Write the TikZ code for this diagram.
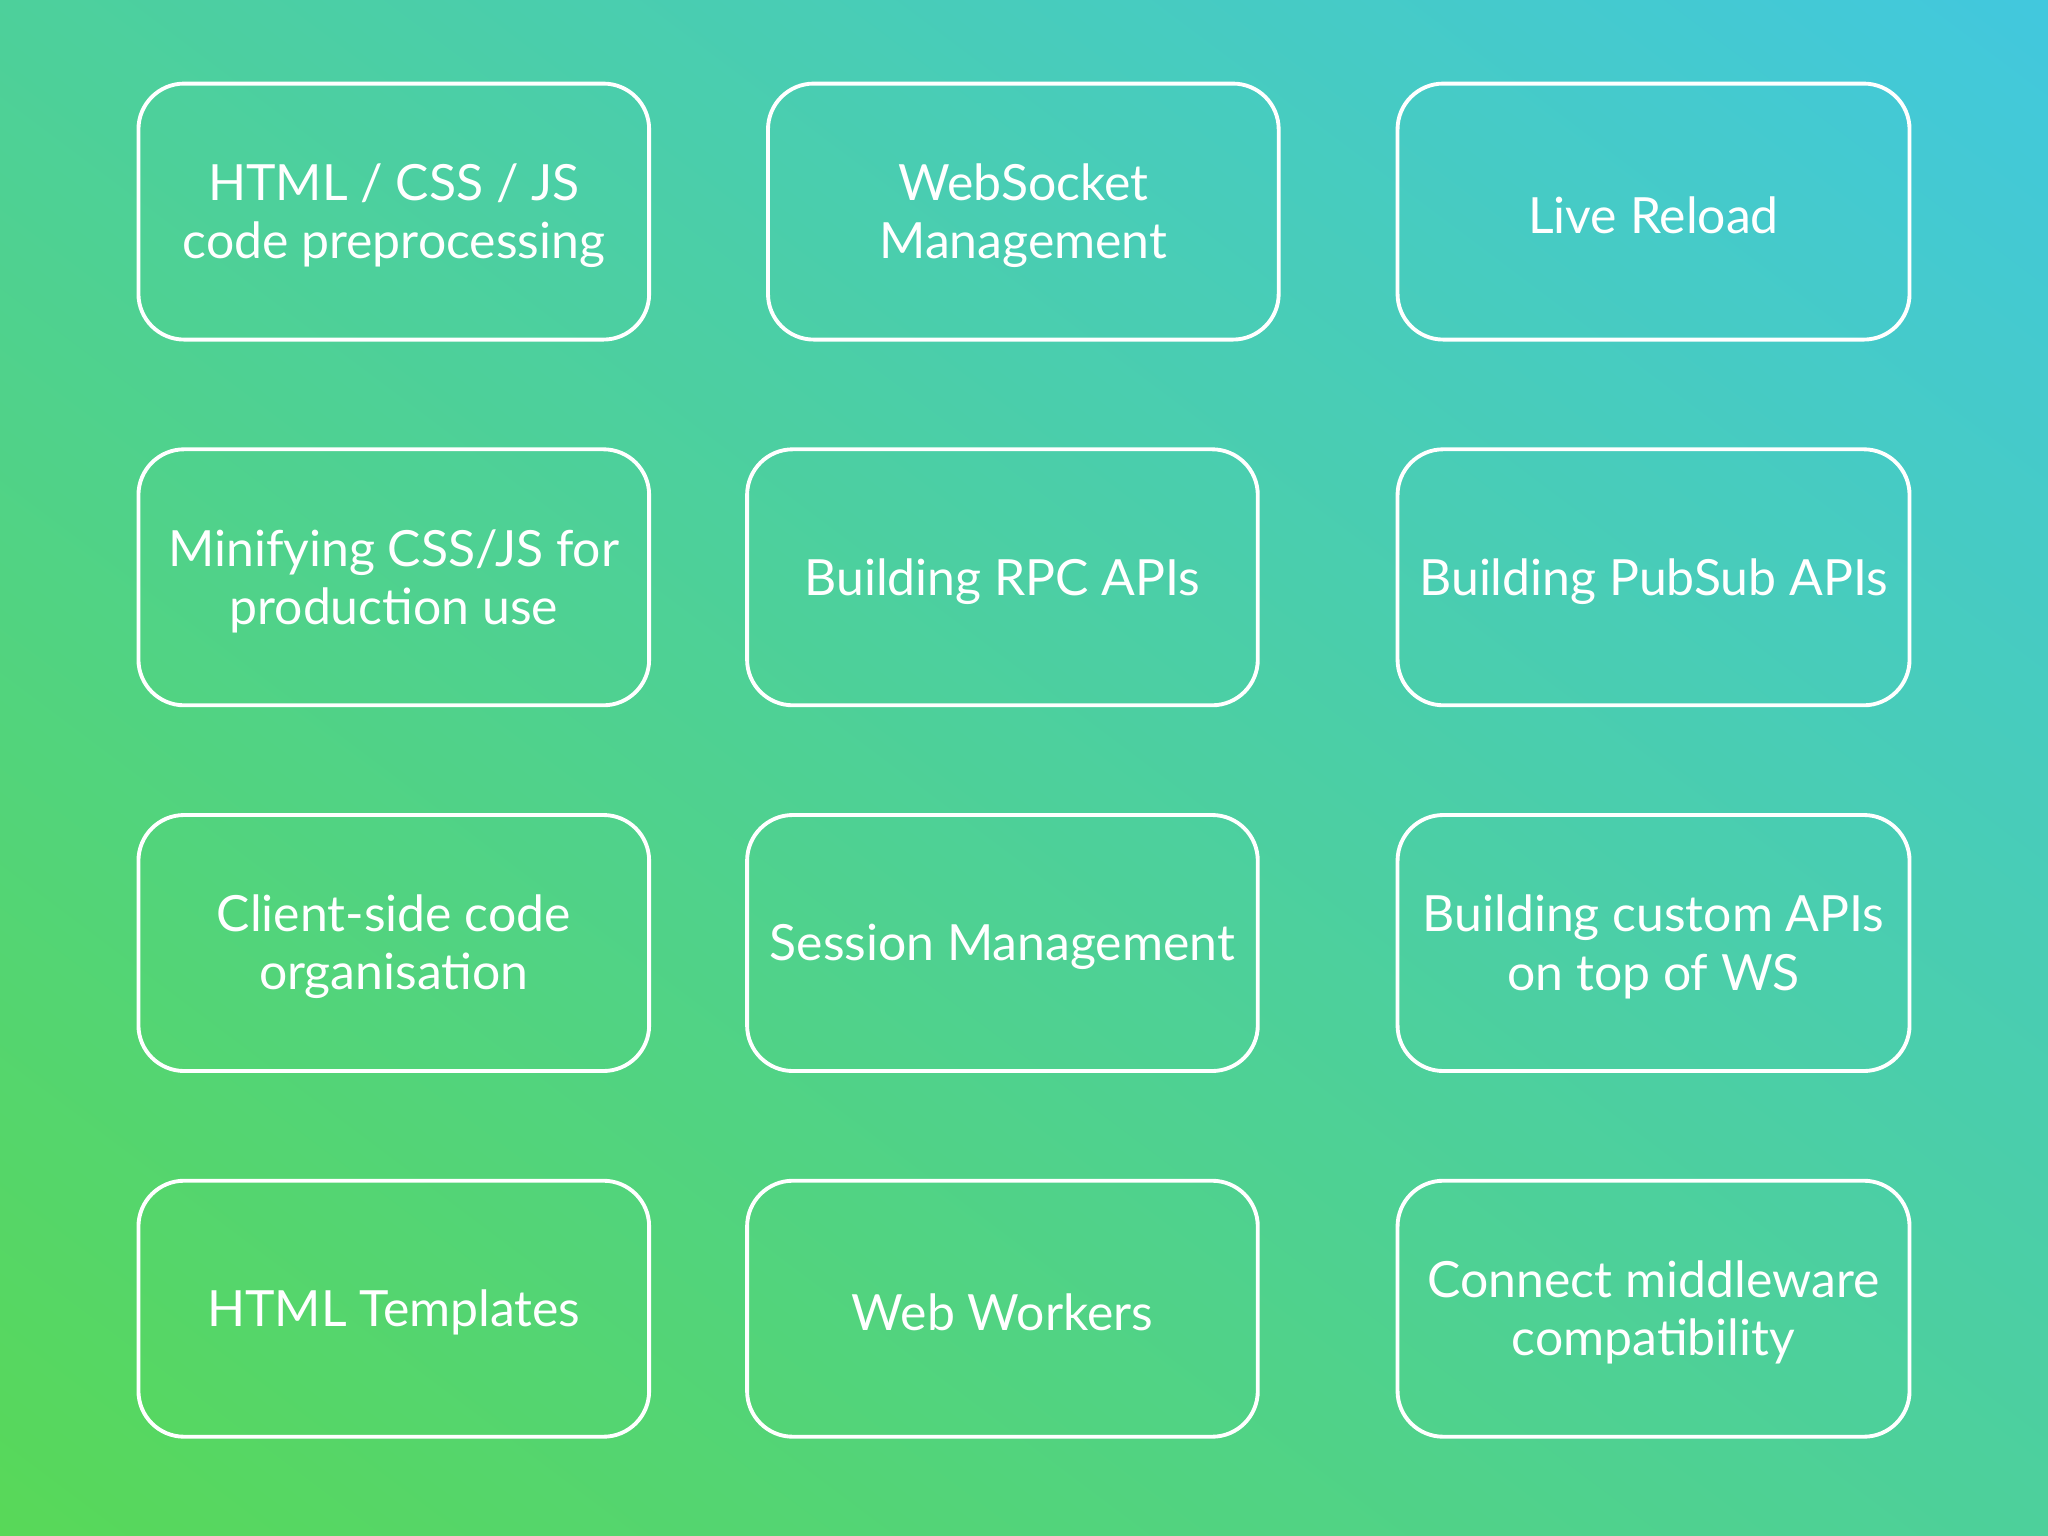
\documentclass[tikz,border=0pt]{standalone}
\usepackage{fontspec}
\setmainfont{Lato}
\usetikzlibrary{shadings}
\definecolor{gA}{RGB}{88,216,88}
\definecolor{gB}{RGB}{66,200,222}
\tikzset{x=0.013061cm,y=-0.013061cm,
 lbl/.style={text=white,font=\fontsize{14.2}{16.6}\selectfont,align=center}}
\begin{document}
\begin{tikzpicture}
\shade[lower left=gA,upper right=gB,lower right=gA!50!gB,upper left=gA!50!gB] (0,1176) rectangle (1568,0);
\useasboundingbox (0,0) rectangle (1568,1176);
\newcommand{\card}[6]{\draw[draw=white,line width=1.1pt,rounded corners=13pt] (#1,#2) rectangle (#3,#4);
 \node[lbl] (#5) at ({(#1+#3)/2},{(#2+#4)/2+3}) {#6};}
\card{106}{64}{497}{260}{a1}{HTML / CSS / JS\\code preprocessing}
\card{588}{64}{979}{260}{a2}{WebSocket\\Management}
\card{1070}{64}{1462}{260}{a3}{Live Reload}
\card{106}{344}{497}{540}{b1}{Minifying CSS/JS for\\production use}
\card{572}{344}{963}{540}{b2}{Building RPC APIs}
\card{1070}{344}{1462}{540}{b3}{Building PubSub APIs}
\card{106}{624}{497}{820}{c1}{Client-side code\\organisation}
\card{572}{624}{963}{820}{c2}{Session Management}
\card{1070}{624}{1462}{820}{c3}{Building custom APIs\\on top of WS}
\card{106}{904}{497}{1100}{d1}{HTML Templates}
\card{572}{904}{963}{1100}{d2}{Web Workers}
\card{1070}{904}{1462}{1100}{d3}{Connect middleware\\compatibility}
\end{tikzpicture}
\end{document}
